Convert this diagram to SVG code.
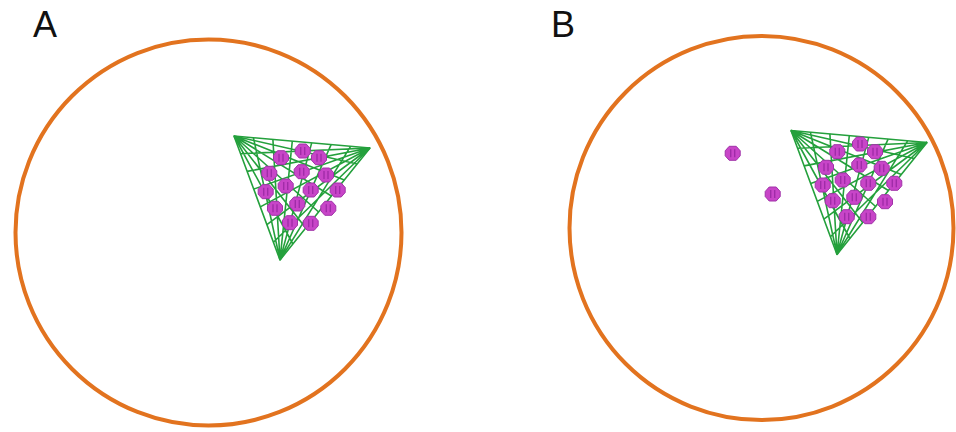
<svg xmlns="http://www.w3.org/2000/svg" xmlns:xlink="http://www.w3.org/1999/xlink" width="956" height="432" viewBox="0 0 956 432">
<style>
.cell{fill:none;stroke:#e2731f;stroke-width:4}
.mesh{fill:none;stroke:#24a03c;stroke-width:1.6;stroke-linejoin:round}
.lbl{font-family:"Liberation Sans",Arial,sans-serif;font-size:36px;fill:#111}
.blob{fill:#c845c8;stroke:#a032a8;stroke-width:1}
</style>
<defs>
<g id="meshShape">
<polygon class="mesh" points="234,136 370,148 280,260"/>
<path class="mesh" d="M234,136L357.1,164M234,136L344.3,180M234,136L331.4,196M234,136L318.6,212M234,136L305.7,228M234,136L292.9,244
M370,148L273.4,242.3M370,148L266.9,224.6M370,148L260.3,206.9M370,148L253.7,189.1M370,148L247.1,171.4M370,148L240.6,153.7
M280,260L253.4,137.7M280,260L272.9,139.4M280,260L292.3,141.1M280,260L311.7,142.9M280,260L331.1,144.6M280,260L350.6,146.3"/>
</g>
<g id="dot">
<polygon class="blob" points="-3.5,-7 3.5,-7 7.5,-2.5 7.5,2.5 3.5,7 -3.5,7 -7.5,2.5 -7.5,-2.5"/>
<path d="M-2,-4L-2,4M2,-4L2,4" stroke="#a02ca8" stroke-width="1.4" fill="none"/>
</g>
</defs>
<g id="panelA">
<text class="lbl" x="33" y="37">A</text>
<circle id="cellA" class="cell" cx="208.5" cy="232.5" r="193"/>
<g id="meshA"><use xlink:href="#meshShape"/></g>
<g id="dotsA">
<use xlink:href="#dot" x="281" y="157.7"/>
<use xlink:href="#dot" x="302.7" y="151"/>
<use xlink:href="#dot" x="319" y="157.7"/>
<use xlink:href="#dot" x="269.3" y="173.3"/>
<use xlink:href="#dot" x="301.7" y="171.7"/>
<use xlink:href="#dot" x="326" y="175"/>
<use xlink:href="#dot" x="265.7" y="191.7"/>
<use xlink:href="#dot" x="285.7" y="186"/>
<use xlink:href="#dot" x="310.7" y="190"/>
<use xlink:href="#dot" x="337.7" y="190"/>
<use xlink:href="#dot" x="275" y="208.3"/>
<use xlink:href="#dot" x="297.3" y="204"/>
<use xlink:href="#dot" x="328.3" y="208.3"/>
<use xlink:href="#dot" x="290" y="222.7"/>
<use xlink:href="#dot" x="310.7" y="223.3"/>
</g>
</g>
<g id="panelB">
<text class="lbl" x="551" y="37">B</text>
<circle id="cellB" class="cell" cx="761.5" cy="228" r="192"/>
<g id="meshB"><use xlink:href="#meshShape" transform="translate(557,-5.5)"/></g>
<g id="dotsB">
<use xlink:href="#dot" x="732.7" y="153.3"/>
<use xlink:href="#dot" x="772.7" y="194"/>
<use xlink:href="#dot" x="837.3" y="151.7"/>
<use xlink:href="#dot" x="860" y="144"/>
<use xlink:href="#dot" x="875" y="151.7"/>
<use xlink:href="#dot" x="826" y="167.3"/>
<use xlink:href="#dot" x="859.3" y="165"/>
<use xlink:href="#dot" x="881.7" y="168.3"/>
<use xlink:href="#dot" x="822.7" y="185"/>
<use xlink:href="#dot" x="842.7" y="180"/>
<use xlink:href="#dot" x="868.3" y="183.3"/>
<use xlink:href="#dot" x="894.3" y="183.3"/>
<use xlink:href="#dot" x="832.7" y="200.7"/>
<use xlink:href="#dot" x="854.3" y="197.3"/>
<use xlink:href="#dot" x="885" y="201.7"/>
<use xlink:href="#dot" x="846.7" y="216.7"/>
<use xlink:href="#dot" x="868.3" y="216.7"/>
</g>
</g>
</svg>
